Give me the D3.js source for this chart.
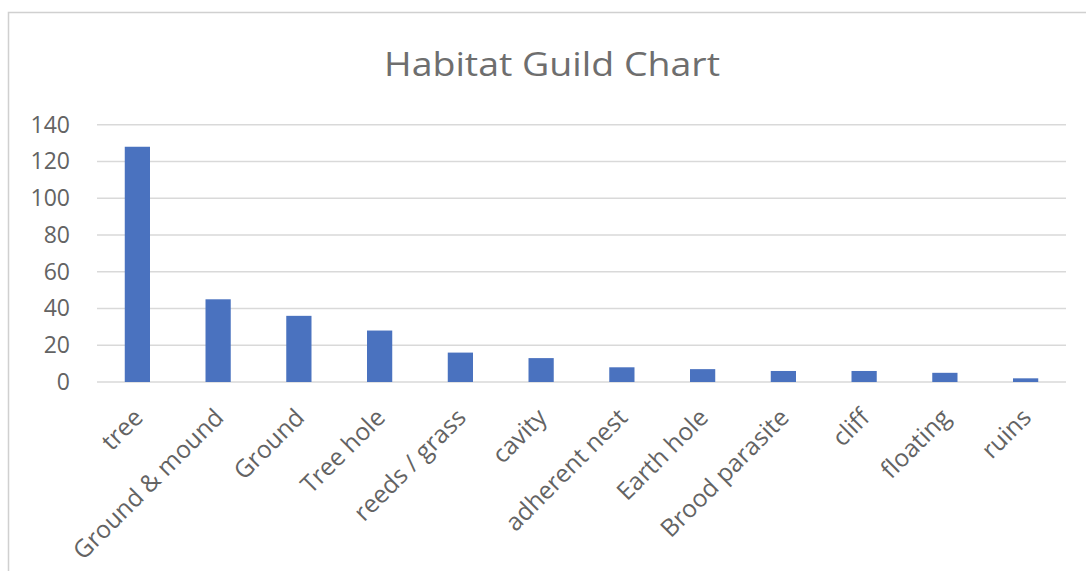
<!DOCTYPE html>
<html>
<head>
<meta charset="utf-8">
<script src="https://cdn.jsdelivr.net/npm/d3@7"></script>
<style>
  html, body { margin: 0; padding: 0; background: #fff; }
  svg { display: block; }
</style>
</head>
<body>
<svg id="chart" width="1086" height="571"></svg>
<script>
// Nesting habitat guilds and number of species in each
const categories = ["tree", "Ground & mound", "Ground", "Tree hole", "reeds / grass", "cavity",
  "adherent nest", "Earth hole", "Brood parasite", "cliff", "floating", "ruins"];
const counts = [128, 45, 36, 28, 16, 13, 8, 7, 6, 6, 5, 2];
const yTicks = [0, 20, 40, 60, 80, 100, 120, 140];
const chartTitle = "Habitat Guild Chart";

const svg = d3.select("#chart");
const W = 1086, H = 571;
const margin = { left: 97, top: 124.7 };
const plotRight = 1066;
const baseY = 382;

const textColor = "#636363";
const gridColor = "#d9d9d9";
const barColor = "#4a72bf";
const font = "'Open Sans', 'Liberation Sans', sans-serif";

// chart area frame
svg.append("rect")
  .attr("x", 8.5).attr("y", 12.5)
  .attr("width", W + 20).attr("height", H + 20)
  .attr("fill", "#fff")
  .attr("stroke", "#d0d0d0")
  .attr("stroke-width", 1.5);

const x = d3.scaleBand()
  .domain(categories)
  .range([margin.left, plotRight])
  .paddingInner(0.6875)
  .paddingOuter(0.34375);

const y = d3.scaleLinear()
  .domain([0, 140])
  .range([baseY, margin.top]);

// horizontal gridlines
svg.append("g")
  .selectAll("line")
  .data(yTicks)
  .join("line")
  .attr("x1", margin.left).attr("x2", plotRight)
  .attr("y1", d => y(d)).attr("y2", d => y(d))
  .attr("stroke", gridColor)
  .attr("stroke-width", 1.5);

// y axis labels
const yAxis = d3.axisLeft(y).tickValues(yTicks).tickSize(0).tickPadding(27);
const gy = svg.append("g").attr("transform", `translate(${margin.left},0)`).call(yAxis);
gy.select(".domain").remove();
gy.selectAll("text")
  .attr("fill", textColor)
  .style("font-family", font)
  .style("font-size", "23px");

// bars
svg.append("g")
  .selectAll("rect")
  .data(counts)
  .join("rect")
  .attr("x", (d, i) => x(categories[i]))
  .attr("width", x.bandwidth())
  .attr("y", d => y(d))
  .attr("height", d => y(0) - y(d))
  .attr("fill", barColor);

// x axis labels, rotated
const xAxis = d3.axisBottom(x).tickSize(0).tickPadding(0);
const gx = svg.append("g").attr("transform", `translate(0,${baseY})`).call(xAxis);
gx.select(".domain").remove();
gx.selectAll("text")
  .attr("fill", textColor)
  .style("font-family", font)
  .style("font-size", "24.5px")
  .attr("text-anchor", "end")
  .attr("dy", "0.35em")
  .attr("y", 0)
  .attr("transform", "translate(1,31) rotate(-45)");

// title
svg.append("text")
  .attr("x", 552)
  .attr("y", 76)
  .attr("text-anchor", "middle")
  .attr("fill", "#6e6e6e")
  .style("font-family", font)
  .style("font-size", "33px")
  .attr("textLength", 336)
  .attr("lengthAdjust", "spacingAndGlyphs")
  .text(chartTitle);
</script>
</body>
</html>
